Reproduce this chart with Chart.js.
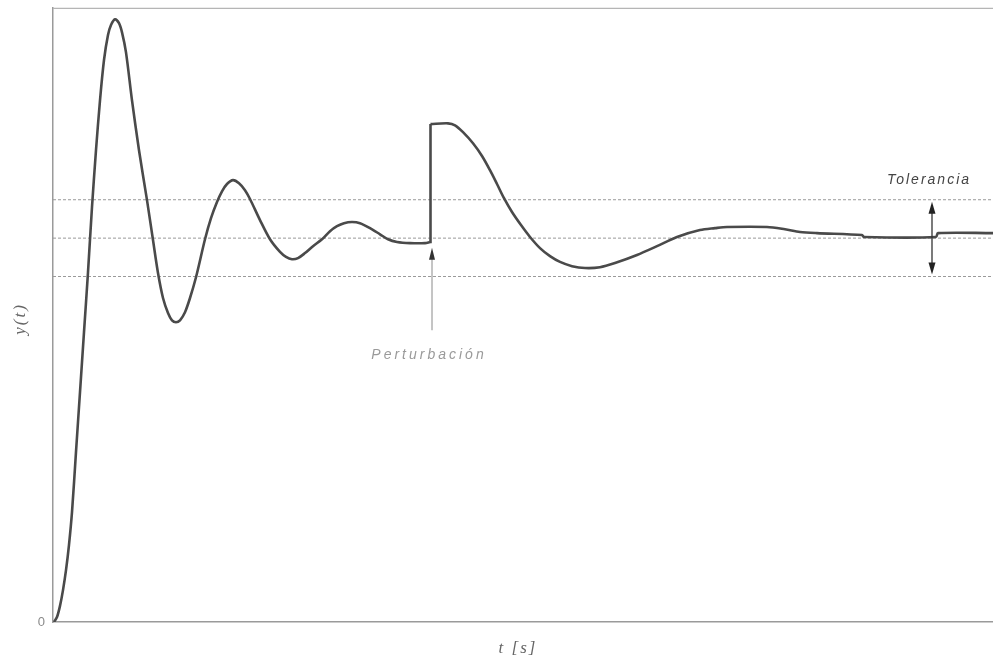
<!DOCTYPE html>
<html>
<head>
<meta charset="utf-8">
<script src="https://cdn.jsdelivr.net/npm/chart.js@4/dist/chart.umd.min.js"></script>
<style>
  html, body { margin: 0; padding: 0; background: #ffffff; }
  canvas { display: block; }
</style>
</head>
<body>
<canvas id="resp" width="993" height="662"></canvas>
<script>
// Closed-loop response y(t): time samples [s] and output values (setpoint = 1)
const timeValues = [
  0.01, 0.04, 0.07, 0.10, 0.13, 0.16, 0.19, 0.23, 0.27, 0.31,
  0.35, 0.39, 0.43, 0.47, 0.51, 0.55, 0.58, 0.62, 0.66, 0.69,
  0.73, 0.79, 0.86, 0.94, 1.00, 1.05, 1.10, 1.15, 1.19, 1.23,
  1.27, 1.32, 1.37, 1.43, 1.52, 1.58, 1.64, 1.69, 1.74, 1.80,
  1.86, 1.92, 1.97, 2.07, 2.17, 2.27, 2.33, 2.39, 2.45, 2.52,
  2.60, 2.69, 2.77, 2.84, 2.91, 2.99, 3.07, 3.17, 3.27, 3.35,
  3.44, 3.57, 3.72, 3.77,
  3.775, 3.95, 4.02, 4.10, 4.20, 4.29, 4.37, 4.44, 4.51, 4.59,
  4.68, 4.77, 4.87, 4.97, 5.07, 5.19, 5.32, 5.47, 5.62, 5.84,
  6.04, 6.24, 6.47, 6.62, 6.74, 7.14, 7.32, 7.47, 7.64, 8.09,
  8.11, 8.83, 8.85, 9.40
];
const outputValues = [
  0.000, 0.013, 0.042, 0.083, 0.135, 0.201, 0.286, 0.443, 0.599, 0.755,
  0.911, 1.081, 1.229, 1.359, 1.464, 1.529, 1.555, 1.570, 1.560, 1.536,
  1.484, 1.359, 1.229, 1.099, 0.995, 0.909, 0.844, 0.805, 0.786, 0.781,
  0.786, 0.807, 0.844, 0.898, 0.997, 1.052, 1.094, 1.122, 1.141, 1.151,
  1.143, 1.125, 1.102, 1.047, 0.997, 0.964, 0.951, 0.945, 0.948, 0.961,
  0.979, 0.997, 1.018, 1.031, 1.039, 1.042, 1.039, 1.026, 1.010, 0.997,
  0.990, 0.987, 0.987, 0.990,
  1.297, 1.299, 1.294, 1.276, 1.247, 1.214, 1.177, 1.141, 1.104, 1.068,
  1.034, 1.003, 0.974, 0.953, 0.938, 0.927, 0.922, 0.924, 0.935, 0.956,
  0.979, 1.003, 1.021, 1.026, 1.029, 1.029, 1.023, 1.016, 1.013, 1.008,
  1.003, 1.003, 1.013, 1.013
];

// Setpoint and tolerance band levels
const bandLevels = [1.1, 1.0, 0.9];
const timeRange = [0, 9.4];

// Annotation anchors (time / output units)
const disturbanceTime = 3.79;
const disturbanceArrow = [0.76, 0.975];
const disturbanceLabel = 'Perturbación';
const disturbanceLabelY = 0.695;
const toleranceTime = 8.79;
const toleranceLabel = 'Tolerancia';
const toleranceLabelY = 1.151;

// Axis labels
const yTickLabels = ['0'];
const xTitle = 't [s]';
const yTitle = 'y(t)';

const curvePoints = timeValues.map((t, i) => ({ x: t, y: outputValues[i] }));
// the disturbance step is drawn straight, the smooth parts on each side separately
const jumpIndex = outputValues.findIndex((v, i) => i > 0 && v - outputValues[i - 1] > 0.2) - 1;
const beforeStep = curvePoints.slice(0, jumpIndex + 1);
const stepEdge = curvePoints.slice(jumpIndex, jumpIndex + 2);
const afterStep = curvePoints.slice(jumpIndex + 1);

const curveStyle = {
  borderColor: '#4a4a4a',
  borderWidth: 2.6,
  pointRadius: 0,
  fill: false,
  order: 1
};

const bandDatasets = bandLevels.map(level => ({
  data: [{ x: timeRange[0], y: level }, { x: timeRange[1], y: level }],
  borderColor: '#9a9a9a',
  borderWidth: 1,
  borderDash: [3, 2],
  pointRadius: 0,
  fill: false,
  order: 2
}));

function arrowHead(ctx, x, y, dir, w, h) {
  ctx.beginPath();
  ctx.moveTo(x, y);
  ctx.lineTo(x - w / 2, y + dir * h);
  ctx.lineTo(x + w / 2, y + dir * h);
  ctx.closePath();
  ctx.fill();
}

const annotations = {
  id: 'annotations',
  afterDatasetsDraw(chart) {
    const { ctx, chartArea, scales } = chart;
    const xs = scales.x, ys = scales.y;
    ctx.save();

    // frame top edge
    ctx.strokeStyle = '#b5b5b5';
    ctx.lineWidth = 1.2;
    ctx.beginPath();
    ctx.moveTo(chartArea.left, chartArea.top + 0.5);
    ctx.lineTo(chartArea.right, chartArea.top + 0.5);
    ctx.stroke();

    // disturbance arrow
    const px = xs.getPixelForValue(disturbanceTime);
    const pyLow = ys.getPixelForValue(disturbanceArrow[0]);
    const pyTip = ys.getPixelForValue(disturbanceArrow[1]);
    ctx.strokeStyle = '#8a8a8a';
    ctx.lineWidth = 1;
    ctx.beginPath();
    ctx.moveTo(px, pyLow);
    ctx.lineTo(px, pyTip + 8);
    ctx.stroke();
    ctx.fillStyle = '#333';
    arrowHead(ctx, px, pyTip, 1, 6, 12);

    ctx.font = 'italic 14px "Liberation Sans", Arial, sans-serif';
    ctx.letterSpacing = '3px';
    ctx.fillStyle = '#9a9a9a';
    ctx.textAlign = 'center';
    ctx.textBaseline = 'middle';
    ctx.fillText(disturbanceLabel, px - 3, ys.getPixelForValue(disturbanceLabelY));

    // tolerance double arrow
    const tx = xs.getPixelForValue(toleranceTime);
    const tyTop = ys.getPixelForValue(bandLevels[0]);
    const tyBot = ys.getPixelForValue(bandLevels[2]);
    ctx.strokeStyle = '#333';
    ctx.lineWidth = 1.3;
    ctx.beginPath();
    ctx.moveTo(tx, tyTop + 8);
    ctx.lineTo(tx, tyBot - 8);
    ctx.stroke();
    ctx.fillStyle = '#222';
    arrowHead(ctx, tx, tyTop + 2, 1, 7, 12);
    arrowHead(ctx, tx, tyBot - 2, -1, 7, 12);

    ctx.font = 'italic 14px "Liberation Sans", Arial, sans-serif';
    ctx.letterSpacing = '2px';
    ctx.fillStyle = '#444';
    ctx.fillText(toleranceLabel, tx - 3, ys.getPixelForValue(toleranceLabelY));

    // axis titles
    ctx.font = 'italic 17px "Liberation Serif", "DejaVu Serif", serif';
    ctx.letterSpacing = '2px';
    ctx.fillStyle = '#666';
    ctx.fillText(xTitle, (chartArea.left + chartArea.right) / 2 - 5, chartArea.bottom + 27);

    ctx.translate(21, (chartArea.top + chartArea.bottom) / 2 + 4);
    ctx.rotate(-Math.PI / 2);
    ctx.fillText(yTitle, 0, 0);
    ctx.restore();
  }
};

new Chart(document.getElementById('resp'), {
  type: 'line',
  data: {
    datasets: [
      { ...curveStyle, data: beforeStep, tension: 0.3 },
      { ...curveStyle, data: stepEdge, tension: 0 },
      { ...curveStyle, data: afterStep, tension: 0.3 },
      ...bandDatasets
    ]
  },
  options: {
    responsive: false,
    animation: false,
    layout: { padding: { top: 2, right: 0, left: 0, bottom: 0 } },
    plugins: { legend: { display: false }, tooltip: { enabled: false } },
    scales: {
      x: {
        type: 'linear',
        min: timeRange[0],
        max: timeRange[1],
        grid: { display: false },
        ticks: { display: false },
        border: { color: '#9a9a9a', width: 1.5 },
        afterFit(scale) { scale.height = 40; }
      },
      y: {
        type: 'linear',
        min: 0,
        max: 1.6,
        grid: { display: false },
        border: { color: '#9a9a9a', width: 1.5 },
        afterBuildTicks(scale) { scale.ticks = [{ value: 0 }]; },
        ticks: {
          padding: 0,
          color: '#8a8a8a',
          font: { family: '"Liberation Sans", Arial, sans-serif', size: 13 },
          callback: (v, i) => yTickLabels[i]
        },
        afterFit(scale) { scale.width = 53; }
      }
    }
  },
  plugins: [annotations]
});
</script>
</body>
</html>
